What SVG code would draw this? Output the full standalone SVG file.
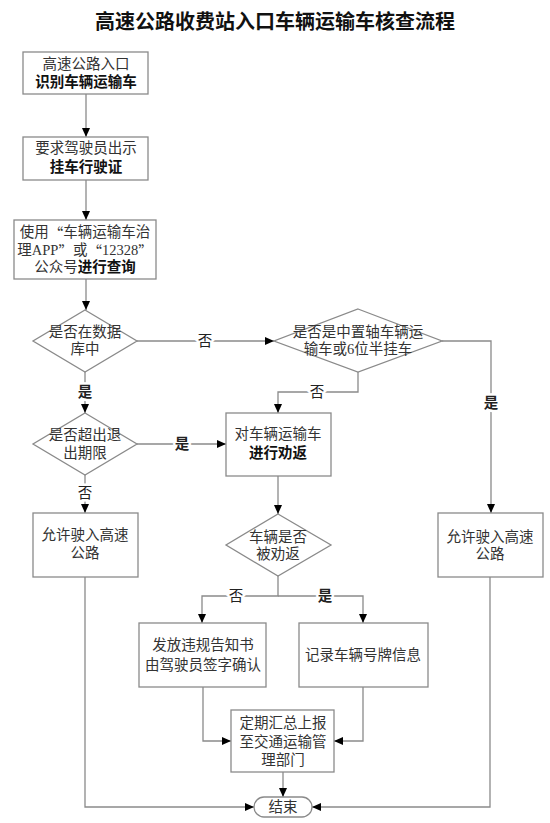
<svg xmlns="http://www.w3.org/2000/svg" width="550" height="823" viewBox="0 0 550 823">
<defs>
<marker id="ah" markerUnits="userSpaceOnUse" markerWidth="10" markerHeight="10" refX="9" refY="5" orient="auto">
<path d="M0,1 L9,5 L0,9 Z" fill="#000"/>
</marker>
<style>
.n{fill:#fff;stroke:#8a8a8a;stroke-width:1.3}
.t{font-family:"Liberation Serif","Noto Sans CJK SC",serif;font-size:14.5px;fill:#333;text-anchor:middle;dominant-baseline:central}
.b{font-weight:bold;fill:#111}
.q{font-family:"Noto Sans CJK SC",sans-serif}
.c{fill:none;stroke:#8a8a8a;stroke-width:1.3}
.a{marker-end:url(#ah)}
.l{font-family:"Liberation Serif","Noto Sans CJK SC",serif;font-size:14.5px;fill:#222;text-anchor:middle;dominant-baseline:central;stroke:#fff;stroke-width:5;paint-order:stroke}
</style>
</defs>
<rect width="550" height="823" fill="#fff"/>
<text x="275" y="20" font-family="'Noto Sans CJK SC',sans-serif" font-size="20" font-weight="bold" text-anchor="middle" dominant-baseline="central" fill="#111">高速公路收费站入口车辆运输车核查流程</text>

<g id="connectors">
<path class="c a" d="M86,94 V137"/>
<path class="c a" d="M86,180 V220"/>
<path class="c a" d="M86,279 V310"/>
<path class="c a" d="M137,341 H274"/>
<path class="c a" d="M85,372 V413"/>
<path class="c a" d="M358,372 V392 H278 V413"/>
<path class="c a" d="M442,341 H491 V513"/>
<path class="c a" d="M137,444 H226"/>
<path class="c a" d="M85,475 V513"/>
<path class="c a" d="M278,476 V514"/>
<path class="c a" d="M278,576 V596 H202 V623"/>
<path class="c a" d="M278,596 H363 V623"/>
<path class="c a" d="M203,687 V741 H231"/>
<path class="c a" d="M363,687 V741 H334"/>
<path class="c a" d="M283,772 V797"/>
<path class="c a" d="M85,577 V807 H254"/>
<path class="c a" d="M490,577 V807 H312"/>
<text class="l" x="205" y="341">否</text>
<text class="l b" x="85" y="392">是</text>
<text class="l" x="317" y="392">否</text>
<text class="l b" x="491" y="403">是</text>
<text class="l b" x="182" y="444">是</text>
<text class="l" x="85" y="493">否</text>
<text class="l" x="236" y="596">否</text>
<text class="l b" x="325" y="596">是</text>
</g>

<g id="n1"><rect class="n" x="23" y="52" width="125" height="42"/>
<text class="t" x="86" y="64">高速公路入口</text><text class="t b" x="86" y="82">识别车辆运输车</text></g>

<g id="n2"><rect class="n" x="23" y="137" width="125" height="43"/>
<text class="t" x="86" y="148">要求驾驶员出示</text><text class="t b" x="86" y="167">挂车行驶证</text></g>

<g id="n3"><rect class="n" x="14" y="220" width="142" height="59"/>
<text class="t" x="85" y="232">使用<tspan class="q">“</tspan>车辆运输车治</text><text class="t" x="85" y="250">理APP<tspan class="q">”</tspan>或<tspan class="q">“</tspan>12328<tspan class="q">”</tspan></text><text class="t" x="85" y="267">公众号<tspan class="b">进行查询</tspan></text></g>

<g id="d1"><polygon class="n" points="85,310 137,341 85,372 33,341"/>
<text class="t" x="85" y="332">是否在数据</text><text class="t" x="85" y="349">库中</text></g>

<g id="d2"><polygon class="n" points="358,309 442,341 358,372 274,341"/>
<text class="t" x="358" y="332">是否是中置轴车辆运</text><text class="t" x="358" y="349">输车或6位半挂车</text></g>

<g id="d3"><polygon class="n" points="85,413 137,444 85,475 33,444"/>
<text class="t" x="85" y="435">是否超出退</text><text class="t" x="85" y="453">出期限</text></g>

<g id="n4"><rect class="n" x="226" y="413" width="105" height="63"/>
<text class="t" x="278" y="434">对车辆运输车</text><text class="t b" x="278" y="453">进行劝返</text></g>

<g id="n5"><rect class="n" x="33" y="513" width="105" height="64"/>
<text class="t" x="85" y="535">允许驶入高速</text><text class="t" x="85" y="553">公路</text></g>

<g id="n6"><rect class="n" x="438" y="513" width="105" height="64"/>
<text class="t" x="490" y="537">允许驶入高速</text><text class="t" x="490" y="554">公路</text></g>

<g id="d4"><polygon class="n" points="278,514 331,545 278,576 226,545"/>
<text class="t" x="278" y="537">车辆是否</text><text class="t" x="278" y="554">被劝返</text></g>

<g id="n7"><rect class="n" x="139" y="623" width="127" height="64"/>
<text class="t" x="203" y="645">发放违规告知书</text><text class="t" x="203" y="665">由驾驶员签字确认</text></g>

<g id="n8"><rect class="n" x="299" y="623" width="129" height="64"/>
<text class="t" x="363" y="655">记录车辆号牌信息</text></g>

<g id="n9"><rect class="n" x="231" y="710" width="103" height="62"/>
<text class="t" x="283" y="723">定期汇总上报</text><text class="t" x="283" y="742">至交通运输管</text><text class="t" x="283" y="760">理部门</text></g>

<g id="end"><rect class="n" x="254" y="797" width="58" height="20" rx="10"/>
<text class="t" x="283" y="807">结束</text></g>
</svg>
